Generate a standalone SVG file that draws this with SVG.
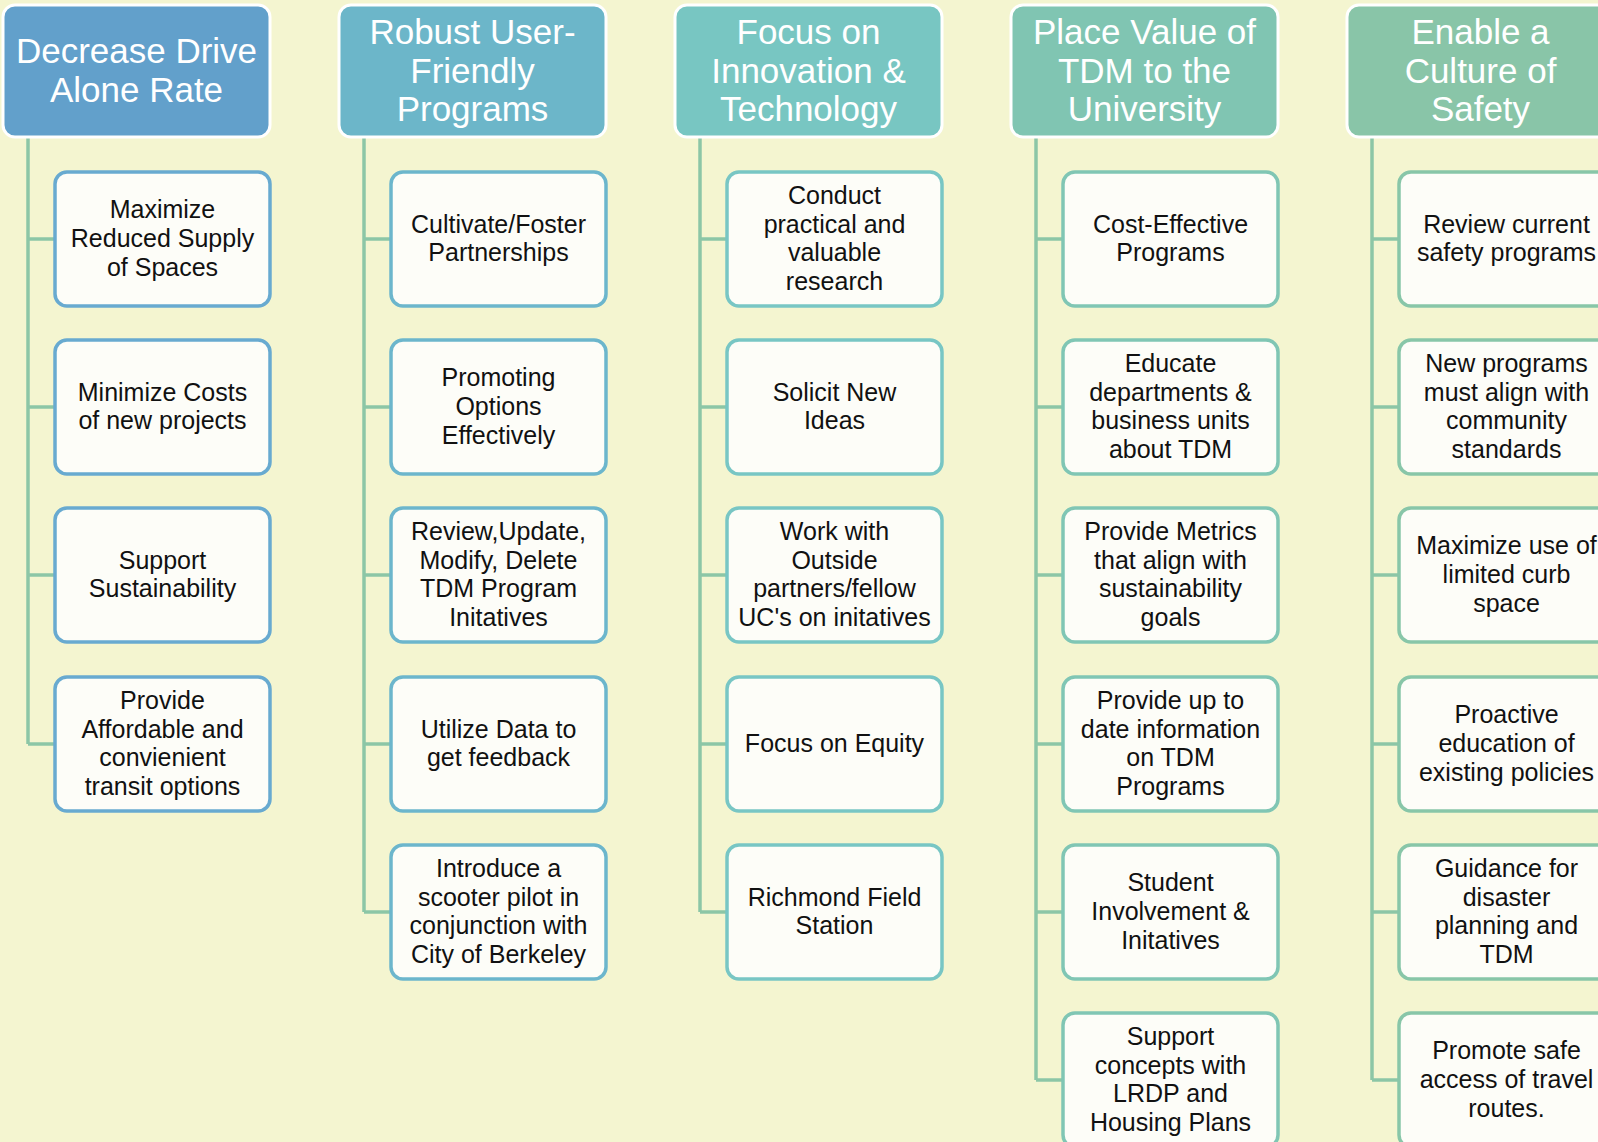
<svg xmlns="http://www.w3.org/2000/svg" width="1598" height="1142" viewBox="0 0 1598 1142">
<style>
.hd{stroke:#ffffff;stroke-width:3}
.h1{fill:#62a0cb}.h2{fill:#6cb6c9}.h3{fill:#78c6c2}.h4{fill:#80c5b2}.h5{fill:#89c5a8}
.bx{fill:#fdfdf8;stroke-width:3.5}
.b1{stroke:#68aad0}.b2{stroke:#6cb6cc}.b3{stroke:#78c6c4}.b4{stroke:#80c6b4}.b5{stroke:#88c6a8}
.ht{fill:#ffffff;font-family:"Liberation Sans",Arial,sans-serif;font-size:35px;text-anchor:middle}
.ct{fill:#111111;font-family:"Liberation Sans",Arial,sans-serif;font-size:25px;text-anchor:middle}
.cn{fill:none;stroke:#8cc6a6;stroke-width:3.5}
</style>
<rect x="0" y="0" width="1598" height="1142" fill="#f4f5d0"/>
<g id="connectors" class="cn">
<path d="M28 137V744M28 239H55M28 407H55M28 575H55M28 744H55"/>
<path d="M364 137V912M364 239H391M364 407H391M364 575H391M364 744H391M364 912H391"/>
<path d="M700 137V912M700 239H727M700 407H727M700 575H727M700 744H727M700 912H727"/>
<path d="M1036 137V1080M1036 239H1063M1036 407H1063M1036 575H1063M1036 744H1063M1036 912H1063M1036 1080H1063"/>
<path d="M1372 137V1080M1372 239H1399M1372 407H1399M1372 575H1399M1372 744H1399M1372 912H1399M1372 1080H1399"/>
</g>
<!-- Column 1 -->
<g id="h1"><rect class="hd h1" x="3" y="5" width="267" height="132" rx="12"/>
<text class="ht" x="136.5" y="63.25">Decrease Drive<tspan x="136.5" dy="38.5">Alone Rate</tspan></text></g>
<g id="c1r1"><rect class="bx b1" x="55" y="172" width="215" height="134" rx="12"/>
<text class="ct" x="162.5" y="218.2">Maximize<tspan x="162.5" dy="28.8">Reduced Supply</tspan><tspan x="162.5" dy="28.8">of Spaces</tspan></text></g>
<g id="c1r2"><rect class="bx b1" x="55" y="340" width="215" height="134" rx="12"/>
<text class="ct" x="162.5" y="400.6">Minimize Costs<tspan x="162.5" dy="28.8">of new projects</tspan></text></g>
<g id="c1r3"><rect class="bx b1" x="55" y="508" width="215" height="134" rx="12"/>
<text class="ct" x="162.5" y="568.6">Support<tspan x="162.5" dy="28.8">Sustainability</tspan></text></g>
<g id="c1r4"><rect class="bx b1" x="55" y="677" width="215" height="134" rx="12"/>
<text class="ct" x="162.5" y="708.8">Provide<tspan x="162.5" dy="28.8">Affordable and</tspan><tspan x="162.5" dy="28.8">convienient</tspan><tspan x="162.5" dy="28.8">transit options</tspan></text></g>
<!-- Column 2 -->
<g id="h2"><rect class="hd h2" x="339" y="5" width="267" height="132" rx="12"/>
<text class="ht" x="472.5" y="44">Robust User-<tspan x="472.5" dy="38.5">Friendly</tspan><tspan x="472.5" dy="38.5">Programs</tspan></text></g>
<g id="c2r1"><rect class="bx b2" x="391" y="172" width="215" height="134" rx="12"/>
<text class="ct" x="498.5" y="232.6">Cultivate/Foster<tspan x="498.5" dy="28.8">Partnerships</tspan></text></g>
<g id="c2r2"><rect class="bx b2" x="391" y="340" width="215" height="134" rx="12"/>
<text class="ct" x="498.5" y="386.2">Promoting<tspan x="498.5" dy="28.8">Options</tspan><tspan x="498.5" dy="28.8">Effectively</tspan></text></g>
<g id="c2r3"><rect class="bx b2" x="391" y="508" width="215" height="134" rx="12"/>
<text class="ct" x="498.5" y="539.8">Review,Update,<tspan x="498.5" dy="28.8">Modify, Delete</tspan><tspan x="498.5" dy="28.8">TDM Program</tspan><tspan x="498.5" dy="28.8">Initatives</tspan></text></g>
<g id="c2r4"><rect class="bx b2" x="391" y="677" width="215" height="134" rx="12"/>
<text class="ct" x="498.5" y="737.6">Utilize Data to<tspan x="498.5" dy="28.8">get feedback</tspan></text></g>
<g id="c2r5"><rect class="bx b2" x="391" y="845" width="215" height="134" rx="12"/>
<text class="ct" x="498.5" y="876.8">Introduce a<tspan x="498.5" dy="28.8">scooter pilot in</tspan><tspan x="498.5" dy="28.8">conjunction with</tspan><tspan x="498.5" dy="28.8">City of Berkeley</tspan></text></g>
<!-- Column 3 -->
<g id="h3"><rect class="hd h3" x="675" y="5" width="267" height="132" rx="12"/>
<text class="ht" x="808.5" y="44">Focus on<tspan x="808.5" dy="38.5">Innovation &amp;</tspan><tspan x="808.5" dy="38.5">Technology</tspan></text></g>
<g id="c3r1"><rect class="bx b3" x="727" y="172" width="215" height="134" rx="12"/>
<text class="ct" x="834.5" y="203.8">Conduct<tspan x="834.5" dy="28.8">practical and</tspan><tspan x="834.5" dy="28.8">valuable</tspan><tspan x="834.5" dy="28.8">research</tspan></text></g>
<g id="c3r2"><rect class="bx b3" x="727" y="340" width="215" height="134" rx="12"/>
<text class="ct" x="834.5" y="400.6">Solicit New<tspan x="834.5" dy="28.8">Ideas</tspan></text></g>
<g id="c3r3"><rect class="bx b3" x="727" y="508" width="215" height="134" rx="12"/>
<text class="ct" x="834.5" y="539.8">Work with<tspan x="834.5" dy="28.8">Outside</tspan><tspan x="834.5" dy="28.8">partners/fellow</tspan><tspan x="834.5" dy="28.8">UC's on initatives</tspan></text></g>
<g id="c3r4"><rect class="bx b3" x="727" y="677" width="215" height="134" rx="12"/>
<text class="ct" x="834.5" y="752">Focus on Equity</text></g>
<g id="c3r5"><rect class="bx b3" x="727" y="845" width="215" height="134" rx="12"/>
<text class="ct" x="834.5" y="905.6">Richmond Field<tspan x="834.5" dy="28.8">Station</tspan></text></g>
<!-- Column 4 -->
<g id="h4"><rect class="hd h4" x="1011" y="5" width="267" height="132" rx="12"/>
<text class="ht" x="1144.5" y="44">Place Value of<tspan x="1144.5" dy="38.5">TDM to the</tspan><tspan x="1144.5" dy="38.5">University</tspan></text></g>
<g id="c4r1"><rect class="bx b4" x="1063" y="172" width="215" height="134" rx="12"/>
<text class="ct" x="1170.5" y="232.6">Cost-Effective<tspan x="1170.5" dy="28.8">Programs</tspan></text></g>
<g id="c4r2"><rect class="bx b4" x="1063" y="340" width="215" height="134" rx="12"/>
<text class="ct" x="1170.5" y="371.8">Educate<tspan x="1170.5" dy="28.8">departments &amp;</tspan><tspan x="1170.5" dy="28.8">business units</tspan><tspan x="1170.5" dy="28.8">about TDM</tspan></text></g>
<g id="c4r3"><rect class="bx b4" x="1063" y="508" width="215" height="134" rx="12"/>
<text class="ct" x="1170.5" y="539.8">Provide Metrics<tspan x="1170.5" dy="28.8">that align with</tspan><tspan x="1170.5" dy="28.8">sustainability</tspan><tspan x="1170.5" dy="28.8">goals</tspan></text></g>
<g id="c4r4"><rect class="bx b4" x="1063" y="677" width="215" height="134" rx="12"/>
<text class="ct" x="1170.5" y="708.8">Provide up to<tspan x="1170.5" dy="28.8">date information</tspan><tspan x="1170.5" dy="28.8">on TDM</tspan><tspan x="1170.5" dy="28.8">Programs</tspan></text></g>
<g id="c4r5"><rect class="bx b4" x="1063" y="845" width="215" height="134" rx="12"/>
<text class="ct" x="1170.5" y="891.2">Student<tspan x="1170.5" dy="28.8">Involvement &amp;</tspan><tspan x="1170.5" dy="28.8">Initatives</tspan></text></g>
<g id="c4r6"><rect class="bx b4" x="1063" y="1013" width="215" height="134" rx="12"/>
<text class="ct" x="1170.5" y="1044.8">Support<tspan x="1170.5" dy="28.8">concepts with</tspan><tspan x="1170.5" dy="28.8">LRDP and</tspan><tspan x="1170.5" dy="28.8">Housing Plans</tspan></text></g>
<!-- Column 5 -->
<g id="h5"><rect class="hd h5" x="1347" y="5" width="267" height="132" rx="12"/>
<text class="ht" x="1480.5" y="44">Enable a<tspan x="1480.5" dy="38.5">Culture of</tspan><tspan x="1480.5" dy="38.5">Safety</tspan></text></g>
<g id="c5r1"><rect class="bx b5" x="1399" y="172" width="215" height="134" rx="12"/>
<text class="ct" x="1506.5" y="232.6">Review current<tspan x="1506.5" dy="28.8">safety programs</tspan></text></g>
<g id="c5r2"><rect class="bx b5" x="1399" y="340" width="215" height="134" rx="12"/>
<text class="ct" x="1506.5" y="371.8">New programs<tspan x="1506.5" dy="28.8">must align with</tspan><tspan x="1506.5" dy="28.8">community</tspan><tspan x="1506.5" dy="28.8">standards</tspan></text></g>
<g id="c5r3"><rect class="bx b5" x="1399" y="508" width="215" height="134" rx="12"/>
<text class="ct" x="1506.5" y="554.2">Maximize use of<tspan x="1506.5" dy="28.8">limited curb</tspan><tspan x="1506.5" dy="28.8">space</tspan></text></g>
<g id="c5r4"><rect class="bx b5" x="1399" y="677" width="215" height="134" rx="12"/>
<text class="ct" x="1506.5" y="723.2">Proactive<tspan x="1506.5" dy="28.8">education of</tspan><tspan x="1506.5" dy="28.8">existing policies</tspan></text></g>
<g id="c5r5"><rect class="bx b5" x="1399" y="845" width="215" height="134" rx="12"/>
<text class="ct" x="1506.5" y="876.8">Guidance for<tspan x="1506.5" dy="28.8">disaster</tspan><tspan x="1506.5" dy="28.8">planning and</tspan><tspan x="1506.5" dy="28.8">TDM</tspan></text></g>
<g id="c5r6"><rect class="bx b5" x="1399" y="1013" width="215" height="134" rx="12"/>
<text class="ct" x="1506.5" y="1059.2">Promote safe<tspan x="1506.5" dy="28.8">access of travel</tspan><tspan x="1506.5" dy="28.8">routes.</tspan></text></g>
</svg>
